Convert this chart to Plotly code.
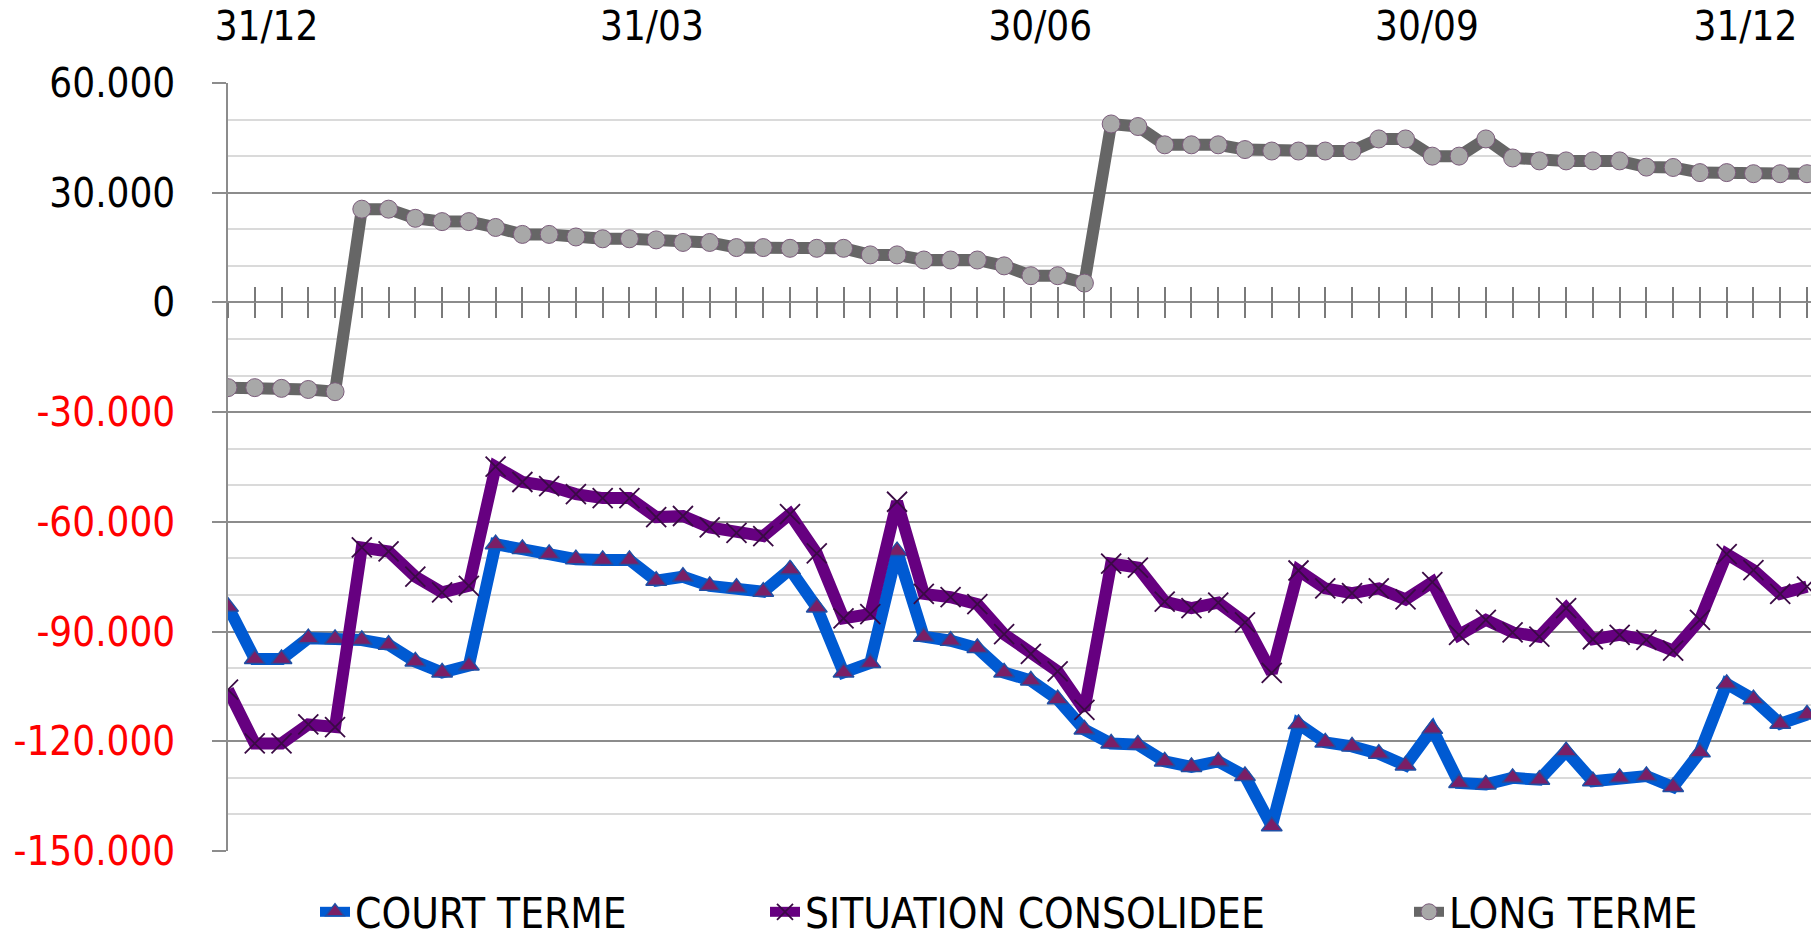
import plotly.graph_objects as go

# ---------------- data (values in thousands) ----------------
court_terme = [-83.2, -97.5, -97.5, -91.8, -92.0, -92.3, -93.6, -98.2, -101.2, -99.3,
               -66.1, -67.4, -68.8, -70.2, -70.4, -70.4, -76.1, -75.0, -77.5, -78.0,
               -79.1, -73.0, -83.4, -101.2, -98.6, -68.0, -91.4, -92.5, -94.5, -101.2,
               -103.4, -108.5, -116.8, -120.6, -120.9, -125.5, -127.0, -125.5, -129.5, -143.2,
               -115.3, -120.3, -121.4, -123.4, -126.6, -116.6, -131.4, -131.8, -130.0, -130.5,
               -122.7, -130.9, -130.0, -129.5, -132.5, -123.0, -104.3, -108.5, -115.2, -112.7]

situation_consolidee = [-105.9, -120.6, -120.6, -115.4, -116.1, -67.0, -68.1, -75.0, -79.3, -77.5,
                        -44.9, -49.1, -50.2, -52.4, -53.5, -53.5, -58.7, -58.4, -61.5, -63.0,
                        -63.9, -57.9, -68.6, -86.4, -85.2, -54.5, -79.7, -80.6, -82.5, -90.7,
                        -96.1, -100.9, -111.4, -71.4, -72.5, -81.8, -83.6, -82.1, -87.5, -101.3,
                        -73.3, -78.2, -79.5, -78.2, -81.2, -76.5, -90.9, -86.8, -90.2, -91.4,
                        -83.6, -92.1, -90.9, -92.3, -95.2, -86.8, -68.8, -73.2, -79.7, -77.7]

long_terme = [-23.3, -23.3, -23.5, -23.8, -24.4, 25.5, 25.5, 23.0, 22.1, 22.1,
              20.5, 18.6, 18.6, 17.9, 17.4, 17.4, 17.1, 16.4, 16.4, 15.0,
              15.0, 14.8, 14.8, 14.8, 13.0, 13.0, 11.6, 11.6, 11.6, 10.0,
              7.3, 7.3, 5.3, 48.8, 48.1, 43.1, 43.1, 43.1, 41.8, 41.4,
              41.4, 41.4, 41.4, 44.7, 44.7, 40.0, 40.0, 44.7, 39.5, 38.7,
              38.7, 38.7, 38.7, 37.0, 36.9, 35.5, 35.5, 35.2, 35.2, 35.2]

date_labels = ["31/12", "31/03", "30/06", "30/09", "31/12"]
date_positions = [1.44, 15.84, 30.35, 44.8, 56.7]

y_tick_values = [-150000, -120000, -90000, -60000, -30000, 0, 30000, 60000]
y_tick_labels = ["-150.000", "-120.000", "-90.000", "-60.000", "-30.000", "0", "30.000", "60.000"]

series_names = ["COURT TERME", "SITUATION CONSOLIDEE", "LONG TERME"]

# ---------------- style ----------------
FONT = "DejaVu Sans Condensed, Liberation Sans Narrow, Arial Narrow, sans-serif"
FS = 40
FS_LEGEND = 42
Y_MIN, Y_MAX = -150000, 60000
X_MAX = 59.15
ZERO_POS = (0 - Y_MIN) / (Y_MAX - Y_MIN)

idx = list(range(len(court_terme)))
to_units = lambda arr: [v * 1000 for v in arr]

fig = go.Figure()

fig.add_trace(go.Scatter(
    x=idx, y=to_units(court_terme), name=series_names[0], mode="lines+markers",
    line=dict(color="#005AD2", width=12),
    marker=dict(symbol="triangle-up", size=18, color="#7A1F66",
                line=dict(color="#1F4FA5", width=1.5)),
    xaxis="x", yaxis="y", legend="legend"))

fig.add_trace(go.Scatter(
    x=idx, y=to_units(situation_consolidee), name=series_names[1], mode="lines+markers",
    line=dict(color="#660080", width=12),
    marker=dict(symbol="x-thin", size=20, color="#3A0A44",
                line=dict(color="#3A0A44", width=1.8)),
    xaxis="x2", yaxis="y", legend="legend2"))

fig.add_trace(go.Scatter(
    x=idx, y=to_units(long_terme), name=series_names[2], mode="lines+markers",
    line=dict(color="#666666", width=12),
    marker=dict(symbol="circle", size=18, color="#A8A8A8",
                line=dict(color="#7B5C7B", width=1)),
    xaxis="x3", yaxis="y", legend="legend3"))

tick_labels_colored = [
    (f'<span style="color:#FF0000">{t}</span>' if v < 0 else t)
    for v, t in zip(y_tick_values, y_tick_labels)
]

legend_common = dict(xref="container", yref="container", yanchor="middle",
                     xanchor="left", orientation="h", bgcolor="rgba(0,0,0,0)",
                     font=dict(family=FONT, size=FS_LEGEND, color="#000000"))
legend_y = 1 - 912 / 937

fig.update_layout(
    width=1816, height=937,
    margin=dict(l=228, r=5, t=83, b=86),
    paper_bgcolor="white", plot_bgcolor="white",
    font=dict(family=FONT, size=FS, color="#000000"),
    showlegend=True,
    legend=dict(x=315 / 1816, y=legend_y, **legend_common),
    legend2=dict(x=765 / 1816, y=legend_y, **legend_common),
    legend3=dict(x=1409 / 1816, y=legend_y, **legend_common),
    xaxis=dict(range=[0, X_MAX], side="top", tickmode="array",
               tickvals=date_positions, ticktext=date_labels,
               showgrid=False, showline=False, zeroline=False, ticks="",
               tickfont=dict(family=FONT, size=FS, color="#000000"),
               ticklabelstandoff=34, automargin=False),
    xaxis2=dict(range=[0, X_MAX], overlaying="x", anchor="free", position=ZERO_POS,
                side="bottom", tickmode="linear", tick0=0, dtick=1,
                ticks="outside", ticklen=15, tickwidth=1.5, tickcolor="#7A7A7A",
                showticklabels=False, showgrid=False, zeroline=False, showline=False,
                automargin=False),
    xaxis3=dict(range=[0, X_MAX], overlaying="x", anchor="free", position=ZERO_POS,
                side="bottom", tickmode="linear", tick0=0, dtick=1,
                ticks="inside", ticklen=15, tickwidth=1.5, tickcolor="#7A7A7A",
                showticklabels=False, showgrid=False, zeroline=False, showline=False,
                automargin=False),
    yaxis=dict(range=[Y_MIN, Y_MAX], tickmode="array", tickvals=y_tick_values,
               ticktext=tick_labels_colored,
               showgrid=True, gridcolor="#8C8C8C", gridwidth=1.5,
               minor=dict(tickmode="linear", tick0=0, dtick=10000, showgrid=True,
                          gridcolor="#DADADA", gridwidth=1.5, ticks=""),
               ticks="outside", ticklen=14, tickwidth=1.5, tickcolor="#8C8C8C",
               showline=True, linecolor="#8C8C8C", linewidth=1.5, zeroline=False,
               tickfont=dict(family=FONT, size=FS, color="#000000"),
               ticklabelstandoff=29, automargin=False),
)

fig.write_html("out.html", config={"displayModeBar": False},
               post_script="document.body.style.margin='0';document.body.style.overflow='hidden';")
